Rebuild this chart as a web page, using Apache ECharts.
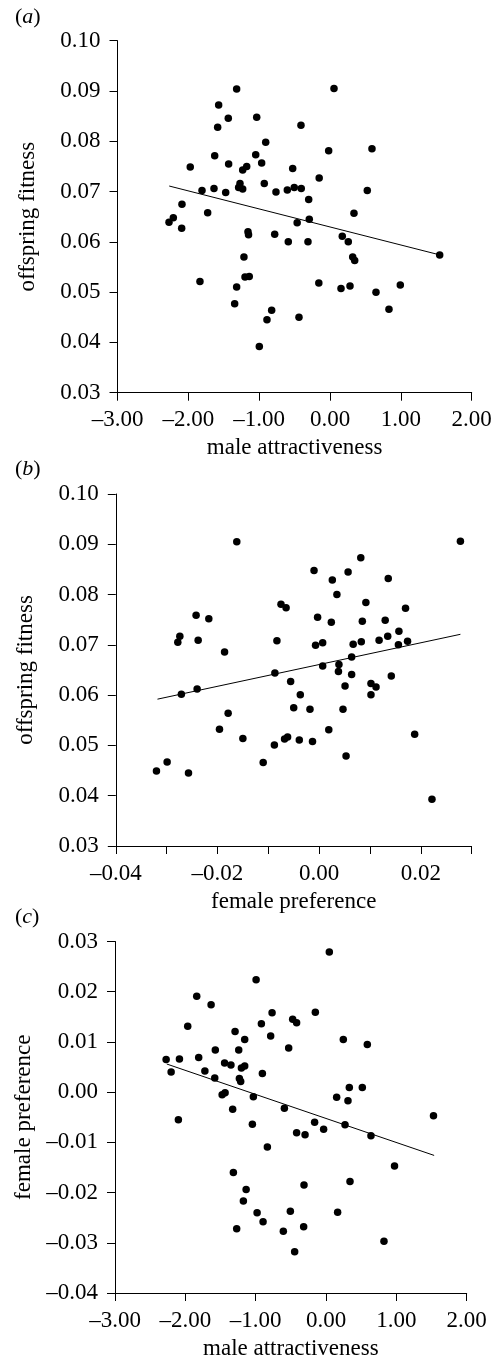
<!DOCTYPE html>
<html><head><meta charset="utf-8">
<script src="https://cdn.jsdelivr.net/npm/echarts@6/dist/echarts.min.js"></script>
<style>html,body{margin:0;padding:0;background:#fff}#c{width:498px;height:1361px}</style>
</head><body><div id="c"></div>
<script>
// Panel (a): male attractiveness vs offspring fitness
const pointsA = [
[-1.318,0.0904],[-1.572,0.0872],[-1.436,0.0846],[-1.035,0.0848],[-1.586,0.0828],[-0.410,0.0832],
[-0.908,0.0798],[-1.628,0.0771],[-1.049,0.0773],[-1.973,0.0749],[-1.431,0.0755],[-0.965,0.0757],
[-1.233,0.0743],[-1.176,0.0750],[-0.527,0.0746],[-0.153,0.0727],[-1.807,0.0702],[-1.638,0.0706],
[-1.473,0.0698],[-1.271,0.0716],[-1.290,0.0708],[-1.233,0.0705],[-0.928,0.0716],[-0.763,0.0699],
[-0.603,0.0703],[-0.505,0.0708],[-0.406,0.0706],[-0.301,0.0684],[-2.090,0.0675],[-1.727,0.0658],
[-2.212,0.0648],[-0.293,0.0645],[-2.273,0.0639],[-2.094,0.0627],[-0.464,0.0638],[-1.158,0.0620],
[-1.150,0.0614],[-0.781,0.0615],[-0.589,0.0600],[-0.311,0.0600],[-1.215,0.0570],[-1.200,0.0530],
[-1.140,0.0531],[-1.836,0.0521],[-0.158,0.0518],[-1.318,0.0510],[-1.346,0.0477],[-0.824,0.0464],
[-0.890,0.0445],[-0.438,0.0450],[-0.998,0.0392],[0.056,0.0905],[-0.019,0.0781],[0.592,0.0785],
[0.526,0.0702],[0.338,0.0657],[0.173,0.0611],[0.258,0.0600],[0.320,0.0570],[0.348,0.0563],
[1.548,0.0574],[0.155,0.0507],[0.282,0.0512],[0.649,0.0500],[0.992,0.0514],[0.832,0.0466]
];
const lineA = [[-2.27,0.0711],[1.55,0.0574]];

// Panel (b): female preference vs offspring fitness
const pointsB = [
[-0.0162,0.0905],[-0.0010,0.0848],[-0.0075,0.0781],[-0.0065,0.0774],[-0.0003,0.0755],[-0.0242,0.0759],
[-0.0217,0.0752],[-0.0274,0.0717],[-0.0278,0.0705],[-0.0238,0.0709],[-0.0186,0.0686],[-0.0083,0.0708],
[-0.0007,0.0699],[-0.0087,0.0644],[-0.0056,0.0627],[-0.0271,0.0602],[-0.0240,0.0612],[-0.0037,0.0601],
[-0.0050,0.0575],[-0.0018,0.0572],[-0.0179,0.0564],[-0.0196,0.0532],[-0.0150,0.0514],[-0.0088,0.0501],
[-0.0068,0.0513],[-0.0062,0.0517],[-0.0039,0.0511],[-0.0013,0.0508],[-0.0110,0.0466],[-0.0299,0.0467],
[-0.0320,0.0449],[-0.0257,0.0445],[0.0278,0.0906],[0.0082,0.0873],[0.0057,0.0845],[0.0026,0.0829],
[0.0136,0.0832],[0.0035,0.0800],[0.0092,0.0784],[0.0170,0.0773],[0.0024,0.0745],[0.0085,0.0747],
[0.0130,0.0749],[0.0157,0.0727],[0.0135,0.0717],[0.0118,0.0709],[0.0174,0.0707],[0.0156,0.0700],
[0.0007,0.0704],[0.0067,0.0701],[0.0083,0.0706],[0.0064,0.0676],[0.0007,0.0658],[0.0039,0.0661],
[0.0038,0.0647],[0.0064,0.0641],[0.0142,0.0638],[0.0102,0.0623],[0.0112,0.0616],[0.0102,0.0601],
[0.0051,0.0618],[0.0047,0.0572],[0.0019,0.0531],[0.0188,0.0522],[0.0053,0.0479],[0.0222,0.0393]
];
const lineB = [[-0.0318,0.0592],[0.0278,0.0721]];

// Panel (c): male attractiveness vs female preference
const pointsC = [
[-0.994,0.0224],[-1.838,0.0191],[-1.634,0.0174],[-0.767,0.0158],[-0.152,0.0159],[-0.474,0.0145],
[-0.418,0.0138],[-1.966,0.0131],[-0.919,0.0136],[-1.293,0.0121],[-1.156,0.0105],[-0.787,0.0112],
[-0.531,0.0088],[-1.574,0.0084],[-1.241,0.0084],[-2.273,0.0065],[-2.084,0.0066],[-1.810,0.0069],
[-1.442,0.0058],[-1.352,0.0054],[-1.203,0.0048],[-1.156,0.0052],[-2.202,0.0040],[-1.722,0.0042],
[-0.905,0.0037],[-1.582,0.0028],[-1.232,0.0027],[-1.213,0.0021],[-1.477,-0.0005],[-1.435,-0.0001],
[-1.033,-0.0009],[-1.327,-0.0034],[-0.592,-0.0032],[-2.099,-0.0055],[-1.047,-0.0064],[-0.162,-0.0060],
[-0.418,-0.0081],[-0.298,-0.0085],[-0.834,-0.0109],[-1.317,-0.0160],[-0.313,-0.0185],[-1.136,-0.0194],
[-1.175,-0.0217],[-0.980,-0.0240],[-0.507,-0.0237],[-0.895,-0.0258],[-1.270,-0.0272],[-0.607,-0.0277],
[-0.318,-0.0268],[-0.446,-0.0318],[0.047,0.0279],[0.246,0.0105],[0.587,0.0095],[0.331,0.0009],
[0.516,0.0009],[0.151,-0.0010],[0.312,-0.0017],[1.528,-0.0047],[-0.034,-0.0074],[0.270,-0.0065],
[0.639,-0.0087],[0.974,-0.0147],[0.341,-0.0178],[0.165,-0.0239],[0.824,-0.0297]
];
const lineC = [[-2.264,0.0056],[1.537,-0.0126]];

const panelLabels = ['a','b','c'];
const xNames = ['male attractiveness','female preference','male attractiveness'];
const yNames = ['offspring fitness','offspring fitness','female preference'];

const FONT = 'Liberation Serif';
function fmt(v, d){ const s = Math.abs(v).toFixed(d); return (v < -1e-12 ? '\u2013' : '') + s; }

const grids = [
  {left:117.5, top:40.7, width:354.2, height:352},
  {left:115.8, top:494, width:355.8, height:352},
  {left:115, top:941.5, width:351.7, height:352.5}
];
const xCfg = [
  {min:-3, max:2, interval:1, fmt:v=>fmt(v,2)},
  {min:-0.04, max:0.03, interval:0.01, fmt:v=>{const k=Math.round(v*100); return (k%2===0)?fmt(v,2):'';}},
  {min:-3, max:2, interval:1, fmt:v=>fmt(v,2)}
];
const yCfg = [
  {min:0.03, max:0.10, interval:0.01},
  {min:0.03, max:0.10, interval:0.01},
  {min:-0.04, max:0.03, interval:0.01}
];
const axisCommon = {
  axisLine:{onZero:false, lineStyle:{color:'#000', width:1}},
  axisTick:{show:true, inside:false, length:8, lineStyle:{color:'#000', width:1}},
  splitLine:{show:false},
  nameTextStyle:{color:'#000', fontFamily:FONT, fontSize:23},
  nameLocation:'middle'
};
const xAxis = xCfg.map((c,i)=>Object.assign({}, axisCommon, {
  type:'value', gridIndex:i, min:c.min, max:c.max, interval:c.interval,
  name:xNames[i], nameGap:44,
  axisLabel:{color:'#000', fontFamily:FONT, fontSize:23, margin:16, formatter:c.fmt, showMinLabel:true, showMaxLabel:true, hideOverlap:false}
}));
const yAxis = yCfg.map((c,i)=>Object.assign({}, axisCommon, {
  type:'value', gridIndex:i, min:c.min, max:c.max, interval:c.interval,
  name:yNames[i], nameGap:78,
  axisLabel:{color:'#000', fontFamily:FONT, fontSize:23, margin:17, formatter:v=>fmt(v,2), showMinLabel:true, showMaxLabel:true}
}));
const pts = [pointsA, pointsB, pointsC];
const lines = [lineA, lineB, lineC];
const series = [];
for (let i=0;i<3;i++){
  series.push({type:'scatter', xAxisIndex:i, yAxisIndex:i, data:pts[i], symbolSize:7.5,
    itemStyle:{color:'#000', opacity:1}, silent:true, animation:false});
  series.push({type:'line', xAxisIndex:i, yAxisIndex:i, data:lines[i], symbol:'none',
    lineStyle:{color:'#000', width:1}, silent:true, animation:false, z:1});
}
const titleTops = [1, 453, 901];
const title = panelLabels.map((l,i)=>({
  text:'{p|(}{i|'+l+'}{p|)}', left:10, top:titleTops[i],
  textStyle:{fontWeight:'normal', rich:{p:{fontFamily:FONT, fontSize:22, fontWeight:'normal', color:'#000'}, i:{fontFamily:FONT, fontSize:22, fontStyle:'italic', fontWeight:'normal', color:'#000'}}}
}));
const chart = echarts.init(document.getElementById('c'), null, {renderer:'canvas'});
chart.setOption({animation:false, backgroundColor:'#fff', title, grid:grids, xAxis, yAxis, series});
</script></body></html>
